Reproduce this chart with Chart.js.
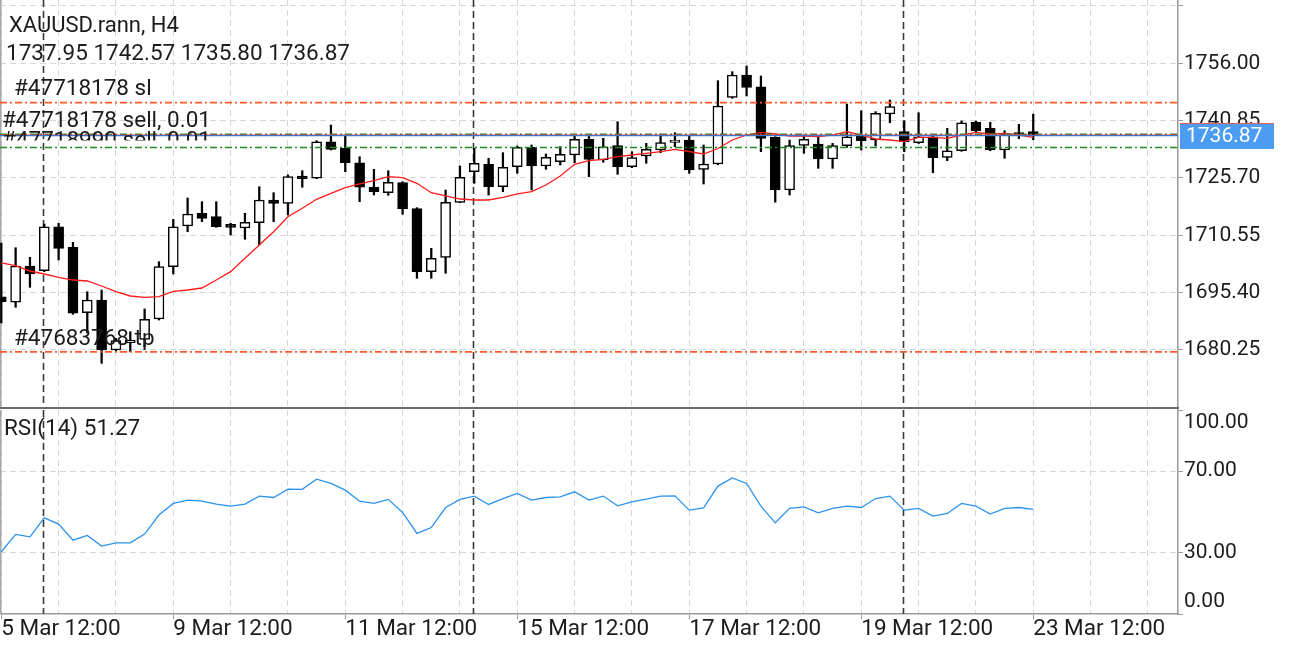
<!DOCTYPE html>
<html>
<head>
<meta charset="utf-8">
<script src="https://cdn.jsdelivr.net/npm/chart.js@4.4.1/dist/chart.umd.min.js"></script>
<style>
html,body{margin:0;padding:0;background:#ffffff;}
#wrap{position:relative;width:1290px;height:645px;overflow:hidden;background:#fff;}
#main{position:absolute;left:0;top:0;width:1290px;height:409px;}
#rsi{position:absolute;left:0;top:409px;width:1290px;height:236px;}
</style>
</head>
<body>
<div id="wrap">
<canvas id="main" width="1290" height="409"></canvas>
<canvas id="rsi" width="1290" height="236"></canvas>
</div>
<script>
// ---------- DATA ----------
const symbolTitle = 'XAUUSD.rann, H4';
const ohlcTitle = '1737.95 1742.57 1735.80 1736.87';
const rsiTitle = 'RSI(14) 51.27';
const lastPriceLabel = '1736.87';
const lastPrice = 1736.87;

const opens  = [1694.3,1692.86,1702.44,1701.2,1712.82,1707.38,1690.1,1693.46,1680.25,1682.17,1683.07,1688.44,1702.26,1713.01,1716.36,1715.47,1713.46,1712.48,1713.88,1719.88,1719.0,1726.22,1725.62,1735.28,1733.54,1729.73,1723.24,1721.81,1724.45,1717.58,1700.94,1704.74,1719.27,1727.36,1729.31,1723.39,1728.68,1733.8,1728.86,1730.0,1731.77,1735.92,1730.45,1734.23,1728.68,1731.5,1733.09,1735.12,1735.73,1727.99,1729.39,1747.01,1752.9,1749.81,1736.45,1722.52,1734.33,1734.68,1730.71,1734.23,1736.79,1735.73,1742.6,1737.93,1735.02,1736.6,1731.16,1732.9,1740.49,1738.82,1733.09,1737.66,1737.95];
const highs  = [1708.5,1707.28,1704.74,1713.54,1713.72,1708.7,1695.65,1696.1,1683.34,1685.08,1691.08,1703.58,1714.78,1720.41,1719.43,1719.43,1713.72,1716.36,1723.39,1721.81,1726.49,1727.62,1735.55,1739.69,1737.05,1731.32,1727.99,1727.62,1724.71,1717.85,1707.12,1722.52,1728.86,1733.54,1730.9,1732.38,1734.15,1734.41,1732.03,1733.96,1737.05,1736.79,1736.18,1740.57,1732.64,1734.86,1737.32,1737.66,1736.79,1734.41,1751.4,1753.78,1755.28,1752.64,1736.6,1735.73,1737.05,1736.79,1734.86,1745.24,1743.47,1743.21,1746.3,1740.83,1742.94,1736.79,1738.82,1740.75,1740.75,1740.41,1738.19,1739.88,1742.57];
const lows   = [1687.4,1691.53,1696.81,1700.94,1704.03,1689.68,1684.74,1676.73,1680.06,1679.8,1681.12,1688.17,1700.33,1711.5,1714.15,1712.66,1710.63,1709.5,1707.99,1714.15,1715.92,1723.24,1725.51,1733.09,1727.36,1719.43,1721.2,1721.12,1716.1,1699.19,1699.19,1700.51,1719.18,1724.29,1721.2,1722.07,1726.93,1722.52,1727.99,1729.13,1729.73,1726.04,1729.84,1726.67,1728.42,1729.57,1732.38,1733.96,1726.93,1724.11,1729.2,1746.75,1747.36,1732.64,1719.3,1721.2,1732.22,1728.25,1728.25,1733.8,1733.09,1734.15,1740.3,1732.64,1734.8,1727.09,1730.26,1732.74,1737.66,1732.9,1730.9,1736.08,1735.80];
const closes = [1693.0,1702.45,1700.33,1712.82,1707.12,1689.95,1693.46,1680.25,1682.71,1682.89,1688.36,1702.26,1712.82,1716.18,1715.04,1712.82,1712.66,1713.99,1719.88,1719.0,1726.04,1725.51,1735.28,1733.27,1729.73,1723.24,1722.07,1724.55,1717.5,1700.94,1704.48,1719.27,1725.88,1729.57,1723.39,1728.52,1733.8,1728.86,1731.16,1731.95,1735.92,1730.63,1733.96,1728.68,1731.06,1733.27,1735.02,1735.73,1727.81,1729.39,1744.71,1752.9,1749.65,1736.18,1722.52,1734.23,1735.92,1730.71,1734.23,1736.6,1735.55,1742.79,1744.53,1735.28,1736.6,1731.06,1732.9,1740.3,1738.19,1733.09,1737.32,1737.24,1736.87];
const maValues = [1703.24,1702.52,1701.12,1700.33,1699.46,1698.74,1698.48,1697.16,1695.65,1694.52,1694.17,1694.33,1695.76,1696.1,1696.63,1698.74,1700.94,1704.48,1707.99,1711.5,1715.47,1717.69,1720.06,1721.65,1723.13,1724.11,1724.98,1726.04,1725.77,1724.29,1721.81,1720.94,1720.14,1719.88,1719.88,1720.59,1721.47,1722.07,1723.84,1726.22,1729.31,1730.26,1730.63,1731.32,1731.77,1732.22,1732.64,1733.27,1732.64,1732.03,1733.49,1735.73,1737.05,1737.77,1737.32,1736.79,1736.79,1736.6,1737.05,1737.93,1737.05,1736.0,1735.73,1735.28,1736.45,1736.45,1736.18,1737.05,1737.77,1737.32,1737.5,1737.05,1736.45];
const rsiValues = [30.5,39.0,37.8,47.1,44.1,36.2,38.5,33.3,34.9,34.9,39.2,48.5,54.2,55.8,55.3,53.9,52.9,53.9,57.8,57.1,61.2,61.1,66.1,64.0,60.7,55.3,54.2,56.2,49.8,39.5,42.4,52.2,56.2,57.8,53.7,56.6,59.1,55.8,57.1,57.4,59.9,55.8,57.8,53.0,55.0,56.3,57.8,57.9,50.9,52.0,62.7,66.7,64.0,52.9,44.7,51.8,52.5,49.6,51.8,52.9,52.2,56.6,57.8,50.9,51.8,48.0,49.3,54.2,52.9,49.0,51.8,52.2,51.27];

const priceTicks = [1680.25,1695.40,1710.55,1725.70,1740.85,1756.00,1771.15];
const priceTickLabels = ['1680.25','1695.40','1710.55','1725.70','1740.85','1756.00',''];
const rsiTicks = [0,30,70,100];
const rsiTickLabels = ['0.00','30.00','70.00','100.00'];
const labelCandles = [0,12,24,36,48,60,72];
const xLabels = ['5 Mar 12:00','9 Mar 12:00','11 Mar 12:00','15 Mar 12:00','17 Mar 12:00','19 Mar 12:00','23 Mar 12:00'];
const weekSeparators = [2.88,32.88,62.88];

// order / level lines
const slLevel = 1745.6;
const tpLevel = 1679.75;
const sellLevel1 = 1737.27;
const sellLevel2 = 1733.76;
const askLevel = 1737.05;
const orderLabels = ['#47718178 sl', '#47718178 sell, 0.01', '#47683768 tp'];
const hiddenOrderLabel = '#47718990 sell, 0.01';

// ---------- STYLE ----------
const X_MIN = -0.09, X_MAX = 82.1;
const Y_MIN = 1665.19, Y_MAX = 1772.72;
const AXIS_PX = 21;
const TEXT_PX = 22.5;
const AXIS_FONT = AXIS_PX + 'px Roboto';
const TEXT_FONT = TEXT_PX + 'px Roboto';
const TITLE_FONT = '22px Roboto';
const TEXT = '#1c1c1c';
const GRID = '#d6d6d6';
const AXIS = '#9a9a9a';
const gridCandles = [];
for (let k = 0; k <= 80; k += 4) gridCandles.push(k);

Chart.defaults.font.family = 'Roboto';
Chart.defaults.font.size = AXIS_PX;
Chart.defaults.color = TEXT;

const idx = opens.map((_, i) => i);
const wickData = idx.map(i => ({x: i, y: [lows[i], highs[i]]}));
const bodyData = idx.map(i => ({x: i, y: [opens[i], closes[i]]}));
const bodyFill = idx.map(i => closes[i] >= opens[i] ? '#ffffff' : '#000000');
const maData = idx.map(i => ({x: i, y: maValues[i]}));
const rsiData = idx.map(i => ({x: i, y: rsiValues[i]}));
const hline = v => [{x: X_MIN, y: v}, {x: X_MAX, y: v}];

function drawSeparators(chart) {
  const {ctx, chartArea, scales: {x}} = chart;
  ctx.save();
  ctx.strokeStyle = '#3a3a3a';
  ctx.lineWidth = 1.6;
  ctx.setLineDash([7, 4]);
  weekSeparators.forEach(s => {
    const px = Math.round(x.getPixelForValue(s)) + 0.5;
    ctx.beginPath();
    ctx.moveTo(px, chartArea.top);
    ctx.lineTo(px, chartArea.bottom);
    ctx.stroke();
  });
  ctx.setLineDash([]);
  ctx.strokeStyle = '#a8a8a8';
  ctx.lineWidth = 1.5;
  ctx.beginPath();
  ctx.moveTo(0.75, chartArea.top);
  ctx.lineTo(0.75, chartArea.bottom);
  ctx.stroke();
  ctx.restore();
}

const mainOverlay = {
  id: 'mainOverlay',
  beforeDatasetsDraw(chart) { drawSeparators(chart); },
  afterDraw(chart) {
    const {ctx, chartArea, scales: {y}} = chart;
    ctx.save();
    ctx.fillStyle = TEXT;
    ctx.textAlign = 'left';
    ctx.textBaseline = 'alphabetic';
    ctx.font = TITLE_FONT;
    ctx.fillText(symbolTitle, 9, 32);
    ctx.font = TEXT_FONT;
    ctx.fillText(ohlcTitle, 6, 60);
    // order labels, sitting above their lines
    ctx.fillText(orderLabels[0], 14, Math.round(y.getPixelForValue(slLevel)) - 8);
    ctx.fillText(orderLabels[1], 2, Math.round(y.getPixelForValue(sellLevel1)) - 7);
    ctx.fillText(orderLabels[2], 14, Math.round(y.getPixelForValue(tpLevel)) - 7);
    // partially hidden label
    ctx.save();
    ctx.beginPath();
    ctx.rect(0, 0, 400, 140.5);
    ctx.clip();
    ctx.fillText(hiddenOrderLabel, 2, Math.round(y.getPixelForValue(sellLevel2)));
    ctx.restore();
    // price box
    ctx.font = AXIS_FONT;
    const py = y.getPixelForValue(lastPrice);
    const bx = chartArea.right + 2, bw = 94, bh = 25;
    ctx.fillStyle = '#4c9cf2';
    ctx.fillRect(bx, Math.round(py - 12), bw, bh);
    ctx.fillStyle = '#e06060';
    ctx.fillRect(bx, Math.round(py - 13), bw, 1);
    ctx.fillStyle = '#ffffff';
    ctx.textBaseline = 'middle';
    ctx.fillText(lastPriceLabel, bx + 6, py + 1);
    // panel separator
    ctx.fillStyle = '#6a6a6a';
    ctx.fillRect(0, chartArea.bottom, chartArea.right + 1, 2);
    ctx.restore();
  }
};

const rsiOverlay = {
  id: 'rsiOverlay',
  beforeDatasetsDraw(chart) { drawSeparators(chart); },
  afterDraw(chart) {
    const {ctx, chartArea, scales: {y}} = chart;
    ctx.save();
    ctx.font = AXIS_FONT;
    ctx.fillStyle = TEXT;
    ctx.textAlign = 'left';
    ctx.textBaseline = 'middle';
    rsiTicks.forEach((v, i) => {
      let p = y.getPixelForValue(v);
      if (v === 100) p += 13;
      if (v === 0) p -= 12;
      ctx.fillText(rsiTickLabels[i], y.left + 6, p);
    });
    ctx.font = TEXT_FONT;
    ctx.textBaseline = 'alphabetic';
    ctx.fillText(rsiTitle, chartArea.left + 4, chartArea.top + 25);
    ctx.restore();
  }
};

const zeroPad = s => { s.paddingLeft = 0; s.paddingRight = 0; s.paddingTop = 0; s.paddingBottom = 0; };

// ---------- MAIN PRICE CHART ----------
new Chart(document.getElementById('main'), {
  type: 'bar',
  data: {
    datasets: [
      {type: 'line', data: hline(lastPrice), borderColor: '#3f6fd8', borderWidth: 1.3, pointRadius: 0, order: 0},
      {type: 'line', data: hline(askLevel), borderColor: '#ff4040', borderWidth: 1.1, pointRadius: 0, order: 0},
      {type: 'line', data: hline(sellLevel1), borderColor: '#1f8a1f', borderWidth: 1.4, borderDash: [7, 3, 2, 3], pointRadius: 0, order: 0},
      {type: 'line', data: hline(sellLevel2), borderColor: '#1f8a1f', borderWidth: 1.4, borderDash: [7, 3, 2, 3], pointRadius: 0, order: 0},
      {type: 'line', data: hline(slLevel), borderColor: '#ff5a28', borderWidth: 1.7, borderDash: [7, 3, 2, 3], pointRadius: 0, order: 0},
      {type: 'line', data: hline(tpLevel), borderColor: '#ff5a28', borderWidth: 1.7, borderDash: [7, 3, 2, 3], pointRadius: 0, order: 0},
      {type: 'line', data: maData, borderColor: '#ff1a1a', borderWidth: 1.3, pointRadius: 0, tension: 0, order: 1},
      {type: 'bar', data: bodyData, backgroundColor: bodyFill, borderColor: '#000000', borderWidth: 1.5, borderSkipped: false, barThickness: 10, grouped: false, order: 2},
      {type: 'bar', data: wickData, backgroundColor: '#000000', borderWidth: 0, barThickness: 1.6, grouped: false, order: 3}
    ]
  },
  options: {
    responsive: false, animation: false, devicePixelRatio: 1,
    layout: {padding: 0},
    plugins: {legend: {display: false}, tooltip: {enabled: false}},
    scales: {
      x: {
        type: 'linear', position: 'bottom', min: X_MIN, max: X_MAX, bounds: 'data', offset: false,
        afterBuildTicks: s => { s.ticks = gridCandles.map(v => ({value: v})); },
        afterFit: s => { s.height = 2; zeroPad(s); },
        ticks: {display: false},
        grid: {color: GRID, lineWidth: 1, drawTicks: false, offset: false},
        border: {display: false, dash: [6, 4]}
      },
      y: {
        type: 'linear', position: 'right', min: Y_MIN, max: Y_MAX, bounds: 'data',
        afterBuildTicks: s => { s.ticks = priceTicks.map(v => ({value: v})); },
        afterFit: s => { s.width = 112; zeroPad(s); },
        ticks: {padding: 1, color: TEXT, font: {size: AXIS_PX}, callback: (v, i) => priceTickLabels[i]},
        grid: {color: GRID, lineWidth: 1, tickColor: AXIS, tickLength: 5, tickWidth: 1},
        border: {display: true, color: AXIS, width: 1.5, dash: [6, 4]}
      }
    }
  },
  plugins: [mainOverlay]
});

// ---------- RSI CHART ----------
new Chart(document.getElementById('rsi'), {
  type: 'line',
  data: {
    datasets: [
      {data: rsiData, borderColor: '#2a93f0', borderWidth: 1.3, pointRadius: 0, tension: 0}
    ]
  },
  options: {
    responsive: false, animation: false, devicePixelRatio: 1,
    layout: {padding: {top: 1, left: 0, right: 0, bottom: 0}},
    plugins: {legend: {display: false}, tooltip: {enabled: false}},
    scales: {
      x: {
        type: 'linear', position: 'bottom', min: X_MIN, max: X_MAX, bounds: 'data', offset: false,
        afterBuildTicks: s => { s.ticks = gridCandles.map(v => ({value: v})); },
        afterFit: s => { s.height = 31; zeroPad(s); },
        ticks: {
          display: true, autoSkip: false, maxRotation: 0, minRotation: 0, align: 'start', padding: -3,
          color: TEXT, font: {size: TEXT_PX},
          callback: v => { const j = labelCandles.indexOf(v); return j >= 0 ? xLabels[j] : ''; }
        },
        grid: {
          color: GRID, lineWidth: 1, tickLength: 5, tickWidth: 1, offset: false,
          tickColor: c => (c.tick && labelCandles.includes(c.tick.value)) ? AXIS : 'rgba(0,0,0,0)'
        },
        border: {display: true, color: AXIS, width: 1.5, dash: [6, 4]}
      },
      y: {
        type: 'linear', position: 'right', min: 0, max: 100, bounds: 'data',
        afterBuildTicks: s => { s.ticks = rsiTicks.map(v => ({value: v})); },
        afterFit: s => { s.width = 112; zeroPad(s); },
        ticks: {display: false},
        grid: {
          color: c => (c.tick && (c.tick.value === 30 || c.tick.value === 70)) ? GRID : 'rgba(0,0,0,0)',
          lineWidth: 1, tickColor: AXIS, tickLength: 5, tickWidth: 1
        },
        border: {display: true, color: AXIS, width: 1.5, dash: [6, 4]}
      }
    }
  },
  plugins: [rsiOverlay]
});
</script>
</body>
</html>
